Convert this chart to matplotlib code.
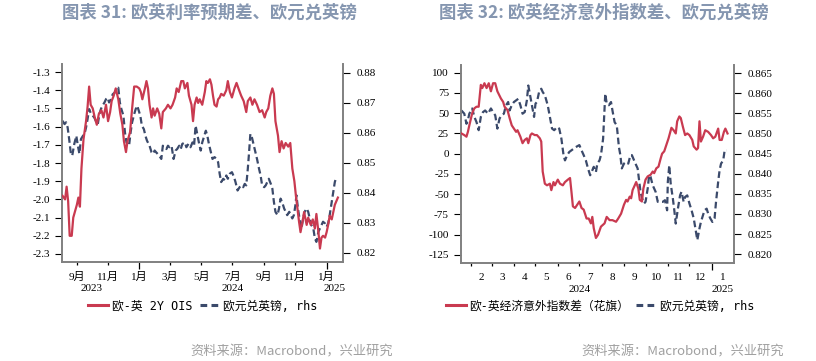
import matplotlib.pyplot as plt
import matplotlib.dates as mdates
from matplotlib.lines import Line2D
import pandas as pd

# ---- 图表 31: 欧-英 2Y OIS 与 欧元兑英镑 ----
ois_dates = [
    '2023-08-04', '2023-08-09', '2023-08-12', '2023-08-15', '2023-08-18', '2023-08-22', '2023-08-25',
    '2023-09-01', '2023-09-04', '2023-09-07', '2023-09-10', '2023-09-14', '2023-09-19', '2023-09-22',
    '2023-09-25', '2023-09-28', '2023-10-02', '2023-10-06', '2023-10-10', '2023-10-14', '2023-10-19',
    '2023-10-23', '2023-10-28', '2023-11-01', '2023-11-05', '2023-11-08', '2023-11-12', '2023-11-16',
    '2023-11-21', '2023-11-25', '2023-11-29', '2023-12-02', '2023-12-06', '2023-12-09', '2023-12-14',
    '2023-12-18', '2023-12-22', '2023-12-27', '2024-01-01', '2024-01-04', '2024-01-07', '2024-01-12',
    '2024-01-15', '2024-01-18', '2024-01-21', '2024-01-25', '2024-01-28', '2024-01-31', '2024-02-05',
    '2024-02-09', '2024-02-13', '2024-02-16', '2024-02-22', '2024-02-26', '2024-03-02', '2024-03-06',
    '2024-03-11', '2024-03-14', '2024-03-18', '2024-03-23', '2024-03-27', '2024-03-30', '2024-04-04',
    '2024-04-07', '2024-04-12', '2024-04-15', '2024-04-18', '2024-04-22', '2024-04-25', '2024-04-28',
    '2024-05-03', '2024-05-08', '2024-05-11', '2024-05-14', '2024-05-18', '2024-05-21', '2024-05-24',
    '2024-05-27', '2024-05-31', '2024-06-03', '2024-06-06', '2024-06-09', '2024-06-14', '2024-06-19',
    '2024-06-22', '2024-06-26', '2024-06-30', '2024-07-05', '2024-07-09', '2024-07-14', '2024-07-18',
    '2024-07-23', '2024-07-28', '2024-07-31', '2024-08-05', '2024-08-09', '2024-08-13', '2024-08-18',
    '2024-08-23', '2024-08-28', '2024-09-02', '2024-09-05', '2024-09-09', '2024-09-13', '2024-09-17',
    '2024-09-20', '2024-09-23', '2024-09-28', '2024-10-01', '2024-10-05', '2024-10-09', '2024-10-13',
    '2024-10-18', '2024-10-22', '2024-10-26', '2024-10-30', '2024-11-02', '2024-11-05', '2024-11-08',
    '2024-11-11', '2024-11-15', '2024-11-18', '2024-11-23', '2024-11-26', '2024-12-01', '2024-12-05',
    '2024-12-09', '2024-12-12', '2024-12-16', '2024-12-19', '2024-12-22', '2024-12-25', '2024-12-29',
    '2025-01-01', '2025-01-04', '2025-01-07', '2025-01-11', '2025-01-14', '2025-01-17', '2025-01-20',
    '2025-01-23']
ois_values = [
    -1.98, -2.00, -1.93, -2.01, -2.20, -2.20, -2.10,
    -2.03, -1.99, -2.04, -1.83, -1.67, -1.57, -1.49,
    -1.38, -1.48, -1.50, -1.55, -1.59, -1.53, -1.51,
    -1.55, -1.48, -1.57, -1.52, -1.46, -1.43, -1.39,
    -1.45, -1.53, -1.59, -1.68, -1.74, -1.68, -1.63,
    -1.50, -1.38, -1.38, -1.39, -1.41, -1.45, -1.39,
    -1.35, -1.39, -1.48, -1.55, -1.50, -1.54, -1.50,
    -1.53, -1.61, -1.52, -1.50, -1.48, -1.50, -1.48,
    -1.44, -1.39, -1.41, -1.35, -1.35, -1.39, -1.36,
    -1.43, -1.48, -1.57, -1.48, -1.44, -1.47, -1.45,
    -1.48, -1.41, -1.35, -1.36, -1.34, -1.37, -1.43,
    -1.48, -1.49, -1.45, -1.44, -1.42, -1.43, -1.40,
    -1.35, -1.41, -1.44, -1.39, -1.36, -1.40, -1.43,
    -1.46, -1.52, -1.46, -1.44, -1.48, -1.45, -1.48,
    -1.52, -1.51, -1.55, -1.52, -1.50, -1.43, -1.39,
    -1.42, -1.57, -1.65, -1.74, -1.68, -1.72, -1.69,
    -1.71, -1.69, -1.83, -1.90, -1.98, -2.05, -2.12,
    -2.18, -2.12, -2.07, -2.14, -2.10, -2.14, -2.11,
    -2.16, -2.08, -2.18, -2.27, -2.21, -2.20, -2.21,
    -2.18, -2.14, -2.09, -2.11, -2.07, -2.03, -2.01,
    -1.99]

fx1_dates = [
    '2023-08-04', '2023-08-08', '2023-08-11', '2023-08-14', '2023-08-17', '2023-08-20', '2023-08-23',
    '2023-08-27', '2023-08-31', '2023-09-03', '2023-09-06', '2023-09-09', '2023-09-13', '2023-09-16',
    '2023-09-19', '2023-09-22', '2023-09-25', '2023-09-29', '2023-10-02', '2023-10-05', '2023-10-08',
    '2023-10-12', '2023-10-15', '2023-10-18', '2023-10-21', '2023-10-25', '2023-10-28', '2023-10-31',
    '2023-11-03', '2023-11-07', '2023-11-10', '2023-11-14', '2023-11-18', '2023-11-21', '2023-11-24',
    '2023-11-27', '2023-12-01', '2023-12-04', '2023-12-07', '2023-12-12', '2023-12-15', '2023-12-18',
    '2023-12-22', '2023-12-25', '2023-12-28', '2023-12-31', '2024-01-03', '2024-01-06', '2024-01-10',
    '2024-01-13', '2024-01-16', '2024-01-21', '2024-01-25', '2024-01-28', '2024-01-31', '2024-02-03',
    '2024-02-09', '2024-02-13', '2024-02-16', '2024-02-20', '2024-02-23', '2024-02-26', '2024-02-29',
    '2024-03-04', '2024-03-08', '2024-03-12', '2024-03-15', '2024-03-19', '2024-03-22', '2024-03-25',
    '2024-03-30', '2024-04-02', '2024-04-06', '2024-04-10', '2024-04-14', '2024-04-17', '2024-04-20',
    '2024-04-24', '2024-04-27', '2024-04-30', '2024-05-03', '2024-05-07', '2024-05-10', '2024-05-13',
    '2024-05-16', '2024-05-20', '2024-05-23', '2024-05-27', '2024-05-31', '2024-06-03', '2024-06-06',
    '2024-06-09', '2024-06-13', '2024-06-16', '2024-06-19', '2024-06-22', '2024-06-26', '2024-06-30',
    '2024-07-04', '2024-07-07', '2024-07-11', '2024-07-15', '2024-07-18', '2024-07-22', '2024-07-25',
    '2024-07-28', '2024-07-31', '2024-08-02', '2024-08-05', '2024-08-08', '2024-08-11', '2024-08-15',
    '2024-08-18', '2024-08-22', '2024-08-25', '2024-08-28', '2024-09-01', '2024-09-04', '2024-09-07',
    '2024-09-10', '2024-09-14', '2024-09-17', '2024-09-20', '2024-09-23', '2024-09-27', '2024-09-30',
    '2024-10-03', '2024-10-06', '2024-10-10', '2024-10-13', '2024-10-16', '2024-10-20', '2024-10-23',
    '2024-10-26', '2024-10-29', '2024-11-01', '2024-11-03', '2024-11-06', '2024-11-10', '2024-11-13',
    '2024-11-16', '2024-11-19', '2024-11-23', '2024-11-26', '2024-11-29', '2024-12-02', '2024-12-06',
    '2024-12-09', '2024-12-12', '2024-12-16', '2024-12-19', '2024-12-22', '2024-12-25', '2024-12-29',
    '2025-01-01', '2025-01-04', '2025-01-07', '2025-01-11', '2025-01-14', '2025-01-17', '2025-01-20']
fx1_values = [
    0.8640, 0.8629, 0.8635, 0.8618, 0.8579, 0.8535, 0.8524,
    0.8563, 0.8590, 0.8557, 0.8530, 0.8579, 0.8590, 0.8596,
    0.8618, 0.8646, 0.8679, 0.8662, 0.8657, 0.8651, 0.8640,
    0.8629, 0.8662, 0.8679, 0.8690, 0.8701, 0.8712, 0.8717,
    0.8701, 0.8712, 0.8728, 0.8734, 0.8745, 0.8750, 0.8701,
    0.8679, 0.8657, 0.8601, 0.8568, 0.8557, 0.8601, 0.8635,
    0.8662, 0.8679, 0.8690, 0.8673, 0.8657, 0.8624, 0.8612,
    0.8590, 0.8574, 0.8557, 0.8535, 0.8530, 0.8541, 0.8535,
    0.8524, 0.8513, 0.8557, 0.8552, 0.8546, 0.8557, 0.8552,
    0.8557, 0.8513, 0.8541, 0.8546, 0.8557, 0.8546, 0.8563,
    0.8568, 0.8552, 0.8563, 0.8552, 0.8568, 0.8557, 0.8624,
    0.8590, 0.8563, 0.8541, 0.8568, 0.8590, 0.8607, 0.8590,
    0.8563, 0.8535, 0.8513, 0.8519, 0.8513, 0.8502, 0.8464,
    0.8436, 0.8447, 0.8442, 0.8458, 0.8447, 0.8464, 0.8469,
    0.8453, 0.8436, 0.8408, 0.8419, 0.8425, 0.8419, 0.8430,
    0.8425, 0.8480, 0.8524, 0.8596, 0.8585, 0.8563, 0.8535,
    0.8513, 0.8480, 0.8458, 0.8425, 0.8419, 0.8425, 0.8436,
    0.8447, 0.8430, 0.8414, 0.8370, 0.8337, 0.8326, 0.8348,
    0.8381, 0.8370, 0.8348, 0.8337, 0.8326, 0.8337, 0.8326,
    0.8315, 0.8326, 0.8359, 0.8392, 0.8348, 0.8304, 0.8282,
    0.8315, 0.8337, 0.8348, 0.8337, 0.8315, 0.8293, 0.8282,
    0.8249, 0.8237, 0.8271, 0.8282, 0.8293, 0.8304, 0.8298,
    0.8287, 0.8298, 0.8326, 0.8370, 0.8403, 0.8436, 0.8453]

# ---- 图表 32: 欧-英经济意外指数差（花旗） 与 欧元兑英镑 ----
cesi_dates = [
    '2024-01-19', '2024-01-23', '2024-01-26', '2024-01-28', '2024-01-30', '2024-02-03', '2024-02-06',
    '2024-02-09', '2024-02-12', '2024-02-15', '2024-02-17', '2024-02-20', '2024-02-23', '2024-02-26',
    '2024-02-29', '2024-03-03', '2024-03-06', '2024-03-09', '2024-03-14', '2024-03-17', '2024-03-19',
    '2024-03-23', '2024-03-26', '2024-03-29', '2024-04-01', '2024-04-04', '2024-04-06', '2024-04-10',
    '2024-04-13', '2024-04-16', '2024-04-19', '2024-04-21', '2024-04-24', '2024-04-26', '2024-04-30',
    '2024-05-03', '2024-05-07', '2024-05-09', '2024-05-11', '2024-05-14', '2024-05-17', '2024-05-21',
    '2024-05-23', '2024-05-26', '2024-05-28', '2024-06-01', '2024-06-04', '2024-06-08', '2024-06-11',
    '2024-06-15', '2024-06-18', '2024-06-20', '2024-06-22', '2024-06-25', '2024-06-28', '2024-07-01',
    '2024-07-04', '2024-07-07', '2024-07-11', '2024-07-14', '2024-07-17', '2024-07-19', '2024-07-21',
    '2024-07-24', '2024-07-27', '2024-07-31', '2024-08-05', '2024-08-08', '2024-08-12', '2024-08-16',
    '2024-08-21', '2024-08-24', '2024-08-28', '2024-09-01', '2024-09-04', '2024-09-06', '2024-09-09',
    '2024-09-11', '2024-09-13', '2024-09-15', '2024-09-18', '2024-09-21', '2024-09-23', '2024-09-26',
    '2024-09-28', '2024-10-01', '2024-10-04', '2024-10-08', '2024-10-11', '2024-10-13', '2024-10-16',
    '2024-10-19', '2024-10-22', '2024-10-24', '2024-10-27', '2024-10-30', '2024-11-02', '2024-11-06',
    '2024-11-09', '2024-11-12', '2024-11-14', '2024-11-17', '2024-11-19', '2024-11-22', '2024-11-25',
    '2024-11-28', '2024-12-01', '2024-12-05', '2024-12-07', '2024-12-11', '2024-12-13', '2024-12-15',
    '2024-12-17', '2024-12-20', '2024-12-23', '2024-12-27', '2024-12-31', '2025-01-03', '2025-01-06',
    '2025-01-10', '2025-01-12', '2025-01-15', '2025-01-18', '2025-01-20', '2025-01-23']
cesi_values = [
    25, 23, 21, 27, 35, 50, 56,
    58, 58, 85, 81, 87, 81, 87,
    77, 87, 87, 77, 68, 64, 58,
    54, 44, 35, 31, 27, 29, 21,
    13, 17, 19, 13, 23, 25, 23,
    23, 19, 15, -22, -37, -39, -37,
    -45, -35, -39, -32, -37, -39, -35,
    -32, -30, -47, -65, -67, -63, -59,
    -67, -69, -80, -80, -86, -78, -92,
    -104, -100, -90, -86, -78, -82, -82,
    -84, -80, -74, -63, -57, -59, -53,
    -55, -45, -41, -35, -43, -57, -59,
    -43, -32, -28, -26, -22, -24, -18,
    -16, -6, 0, 3, 11, 19, 32,
    29, 25, 40, 46, 44, 33, 23,
    25, 23, 17, 9, 5, 7, 40,
    15, 21, 29, 27, 23, 19, 21,
    31, 17, 17, 27, 31, 25]

fx2_dates = [
    '2024-01-19', '2024-01-23', '2024-01-26', '2024-01-28', '2024-01-30', '2024-02-03', '2024-02-06',
    '2024-02-09', '2024-02-12', '2024-02-15', '2024-02-18', '2024-02-21', '2024-02-25', '2024-02-29',
    '2024-03-03', '2024-03-06', '2024-03-09', '2024-03-12', '2024-03-15', '2024-03-18', '2024-03-21',
    '2024-03-24', '2024-03-26', '2024-03-29', '2024-04-01', '2024-04-04', '2024-04-07', '2024-04-10',
    '2024-04-13', '2024-04-16', '2024-04-19', '2024-04-21', '2024-04-24', '2024-04-26', '2024-04-29',
    '2024-05-01', '2024-05-03', '2024-05-06', '2024-05-09', '2024-05-11', '2024-05-14', '2024-05-18',
    '2024-05-21', '2024-05-24', '2024-05-27', '2024-05-31', '2024-06-03', '2024-06-06', '2024-06-09',
    '2024-06-11', '2024-06-14', '2024-06-17', '2024-06-20', '2024-06-23', '2024-06-26', '2024-07-01',
    '2024-07-04', '2024-07-07', '2024-07-10', '2024-07-13', '2024-07-16', '2024-07-18', '2024-07-21',
    '2024-07-24', '2024-07-26', '2024-07-29', '2024-07-31', '2024-08-03', '2024-08-05', '2024-08-06',
    '2024-08-08', '2024-08-11', '2024-08-14', '2024-08-16', '2024-08-19', '2024-08-22', '2024-08-25',
    '2024-08-27', '2024-08-29', '2024-09-01', '2024-09-04', '2024-09-07', '2024-09-10', '2024-09-12',
    '2024-09-15', '2024-09-17', '2024-09-20', '2024-09-22', '2024-09-24', '2024-09-27', '2024-09-29',
    '2024-10-01', '2024-10-04', '2024-10-06', '2024-10-08', '2024-10-11', '2024-10-13', '2024-10-15',
    '2024-10-18', '2024-10-21', '2024-10-25', '2024-10-28', '2024-10-31', '2024-11-01', '2024-11-03',
    '2024-11-05', '2024-11-08', '2024-11-10', '2024-11-12', '2024-11-15', '2024-11-18', '2024-11-20',
    '2024-11-23', '2024-11-25', '2024-11-28', '2024-12-01', '2024-12-04', '2024-12-07', '2024-12-10',
    '2024-12-12', '2024-12-15', '2024-12-17', '2024-12-20', '2024-12-22', '2024-12-25', '2024-12-27',
    '2024-12-30', '2025-01-02', '2025-01-05', '2025-01-07', '2025-01-10', '2025-01-12', '2025-01-14',
    '2025-01-17', '2025-01-19', '2025-01-22']
fx2_values = [
    0.8557, 0.8549, 0.8524, 0.8533, 0.8549, 0.8562, 0.8541,
    0.8528, 0.8508, 0.8541, 0.8553, 0.8557, 0.8549, 0.8562,
    0.8553, 0.8545, 0.8512, 0.8537, 0.8545, 0.8549, 0.8570,
    0.8578, 0.8557, 0.8570, 0.8578, 0.8582, 0.8586, 0.8570,
    0.8549, 0.8553, 0.8582, 0.8619, 0.8590, 0.8570, 0.8541,
    0.8574, 0.8578, 0.8603, 0.8611, 0.8603, 0.8595, 0.8570,
    0.8541, 0.8512, 0.8508, 0.8516, 0.8512, 0.8487, 0.8446,
    0.8433, 0.8446, 0.8454, 0.8458, 0.8462, 0.8466, 0.8471,
    0.8458, 0.8446, 0.8433, 0.8413, 0.8396, 0.8404, 0.8417,
    0.8404, 0.8425, 0.8433, 0.8446, 0.8487, 0.8562, 0.8599,
    0.8574, 0.8570, 0.8578, 0.8557, 0.8528, 0.8520, 0.8466,
    0.8446, 0.8413, 0.8425, 0.8429, 0.8425, 0.8446, 0.8446,
    0.8433, 0.8425, 0.8413, 0.8384, 0.8355, 0.8334, 0.8326,
    0.8330, 0.8363, 0.8396, 0.8392, 0.8371, 0.8363, 0.8355,
    0.8330, 0.8330, 0.8330, 0.8334, 0.8309, 0.8380, 0.8421,
    0.8375, 0.8338, 0.8309, 0.8276, 0.8313, 0.8346, 0.8355,
    0.8330, 0.8342, 0.8346, 0.8326, 0.8309, 0.8289, 0.8256,
    0.8235, 0.8264, 0.8280, 0.8297, 0.8309, 0.8313, 0.8301,
    0.8289, 0.8280, 0.8289, 0.8330, 0.8380, 0.8409, 0.8425,
    0.8433, 0.8458, 0.8458]

titles = ['图表 31: 欧英利率预期差、欧元兑英镑', '图表 32: 欧英经济意外指数差、欧元兑英镑']
legend1 = ['欧-英 2Y OIS', '欧元兑英镑, rhs']
legend2 = ['欧-英经济意外指数差（花旗）', '欧元兑英镑, rhs']
source = '资料来源：Macrobond，兴业研究'

RED = '#C93A50'
NAVY = '#3B4A6B'
SPINE = '#808080'
TITLE_C = '#8596B0'
SERIF = ['Liberation Serif', 'Noto Sans CJK SC']
LEG_FONT = ['DejaVu Sans Mono', 'Noto Sans CJK SC']

plt.rcParams['font.family'] = ['Noto Sans CJK SC', 'DejaVu Sans']
plt.rcParams['axes.unicode_minus'] = False

fig = plt.figure(figsize=(8.16, 3.61), dpi=100)
W, H = 816, 361


def box(l, t, r, b):
    return [l / W, 1 - b / H, (r - l) / W, (b - t) / H]


def style(ax, ax2):
    for a in (ax, ax2):
        a.spines['top'].set_visible(False)
        for s in ('left', 'right', 'bottom'):
            a.spines[s].set_color(SPINE)
            a.spines[s].set_linewidth(1.4)
        a.set_facecolor('none')
    ax.spines['right'].set_visible(False)
    ax2.spines['left'].set_visible(False)
    ax2.spines['bottom'].set_visible(False)
    ax.tick_params(axis='y', direction='out', length=5, width=0.8, pad=3.5, labelsize=8)
    ax2.tick_params(axis='y', direction='out', length=5, width=0.8, pad=4.5, labelsize=8)
    for lab in ax.get_yticklabels() + ax2.get_yticklabels():
        lab.set_fontfamily(SERIF)


def year_labels(ax, items):
    for yr, day in items:
        ax.annotate(yr, xy=(mdates.date2num(pd.Timestamp(day)), 0), xycoords=('data', 'axes fraction'),
                    xytext=(0, -16), textcoords='offset points', ha='center', va='top',
                    fontsize=8, family=SERIF)


# ---------------- left panel ----------------
d_ois = pd.to_datetime(ois_dates)
d_fx1 = pd.to_datetime(fx1_dates)
ax1 = fig.add_axes(box(62, 64, 343, 262))
ax1b = ax1.twinx()
ax1.plot(d_ois, ois_values, color=RED, lw=1.6, zorder=3)
ax1b.plot(d_fx1, fx1_values, color=NAVY, lw=1.6, linestyle=(0, (3, 1.6)))
ax1.set_zorder(ax1b.get_zorder() + 1)
ax1.set_ylim(-2.344, -1.256)
ax1.set_yticks([-1.3, -1.4, -1.5, -1.6, -1.7, -1.8, -1.9, -2.0, -2.1, -2.2, -2.3])
ax1.set_yticklabels(['%.1f' % v for v in ax1.get_yticks()])
ax1b.set_ylim(0.8170, 0.8829)
ax1b.set_yticks([0.82, 0.83, 0.84, 0.85, 0.86, 0.87, 0.88])
ax1b.set_yticklabels(['%.2f' % v for v in ax1b.get_yticks()])
ax1.set_xlim(pd.Timestamp('2023-08-03'), pd.Timestamp('2025-02-02'))
style(ax1, ax1b)

maj1 = pd.to_datetime(['2024-01-01', '2025-01-01'])
min1 = pd.to_datetime(['2023-09-01', '2023-11-01', '2024-03-01', '2024-05-01',
                       '2024-07-01', '2024-09-01', '2024-11-01'])
ax1.set_xticks(maj1, labels=['%d月' % d.month for d in maj1])
ax1.set_xticks(min1, labels=['%d月' % d.month for d in min1], minor=True)
ax1.tick_params(axis='x', which='major', length=5, width=0.9, pad=2, labelsize=8)
ax1.tick_params(axis='x', which='minor', length=2.5, width=0.9, pad=4.5, labelsize=8)
for lab in ax1.get_xticklabels(which='both'):
    lab.set_fontfamily(SERIF)
year_labels(ax1, [('2023', '2023-09-30'), ('2024', '2024-07-01'), ('2025', '2025-01-16')])

h1 = [Line2D([], [], color=RED, lw=2.2),
      Line2D([], [], color=NAVY, lw=2.2, linestyle=(0, (2.2, 1.4)))]
fig.legend(h1, legend1, loc='center', bbox_to_anchor=(203 / W, 1 - 306 / H), ncol=2,
           frameon=False, handlelength=1.7, handletextpad=0.3, columnspacing=0.6,
           prop={'family': LEG_FONT, 'size': 8.5})

# ---------------- right panel ----------------
d_cesi = pd.to_datetime(cesi_dates)
d_fx2 = pd.to_datetime(fx2_dates)
ax2 = fig.add_axes(box(460.7, 65, 734, 263))
ax2b = ax2.twinx()
ax2.plot(d_cesi, cesi_values, color=RED, lw=1.6, zorder=3)
ax2b.plot(d_fx2, fx2_values, color=NAVY, lw=1.6, linestyle=(0, (3, 1.6)))
ax2.set_zorder(ax2b.get_zorder() + 1)
ax2.set_ylim(-134.9, 109.5)
ax2.set_yticks([100, 75, 50, 25, 0, -25, -50, -75, -100, -125])
ax2b.set_ylim(0.8178, 0.8670)
ax2b.set_yticks([0.820, 0.825, 0.830, 0.835, 0.840, 0.845, 0.850, 0.855, 0.860, 0.865])
ax2b.set_yticklabels(['%.3f' % v for v in ax2b.get_yticks()])
ax2.set_xlim(pd.Timestamp('2024-01-18'), pd.Timestamp('2025-02-01'))
style(ax2, ax2b)

month_starts = pd.date_range('2024-02-01', '2025-01-01', freq='MS')
ax2.set_xticks(pd.to_datetime(['2025-01-01']), labels=[''])
ax2.set_xticks(month_starts[:-1], labels=[''] * (len(month_starts) - 1), minor=True)
ax2.tick_params(axis='x', which='major', length=5, width=0.9)
ax2.tick_params(axis='x', which='minor', length=2.5, width=0.9)
for m in month_starts:
    mid = m + pd.Timedelta(days=15)
    ax2.annotate(str(m.month), xy=(mdates.date2num(mid), 0), xycoords=('data', 'axes fraction'),
                 xytext=(0, -7.5), textcoords='offset points', ha='center', va='top',
                 fontsize=8, family=SERIF)
year_labels(ax2, [('2024', '2024-07-01'), ('2025', '2025-01-16')])

h2 = [Line2D([], [], color=RED, lw=2.2),
      Line2D([], [], color=NAVY, lw=2.2, linestyle=(0, (2.2, 1.4)))]
fig.legend(h2, legend2, loc='center', bbox_to_anchor=(600 / W, 1 - 306 / H), ncol=2,
           frameon=False, handlelength=1.7, handletextpad=0.3, columnspacing=0.6,
           prop={'family': LEG_FONT, 'size': 8.5})

# ---------------- titles and sources ----------------
fig.text(209 / W, 1 - 13 / H, titles[0], ha='center', va='center', fontsize=12.5,
         fontweight='bold', color=TITLE_C)
fig.text(604 / W, 1 - 13 / H, titles[1], ha='center', va='center', fontsize=12.5,
         fontweight='bold', color=TITLE_C)
fig.text(393 / W, 1 - 352 / H, source, ha='right', va='center', fontsize=9.5, color='#A0A0A0')
fig.text(784 / W, 1 - 352 / H, source, ha='right', va='center', fontsize=9.5, color='#A0A0A0')

fig.savefig('out.png', dpi=100)
